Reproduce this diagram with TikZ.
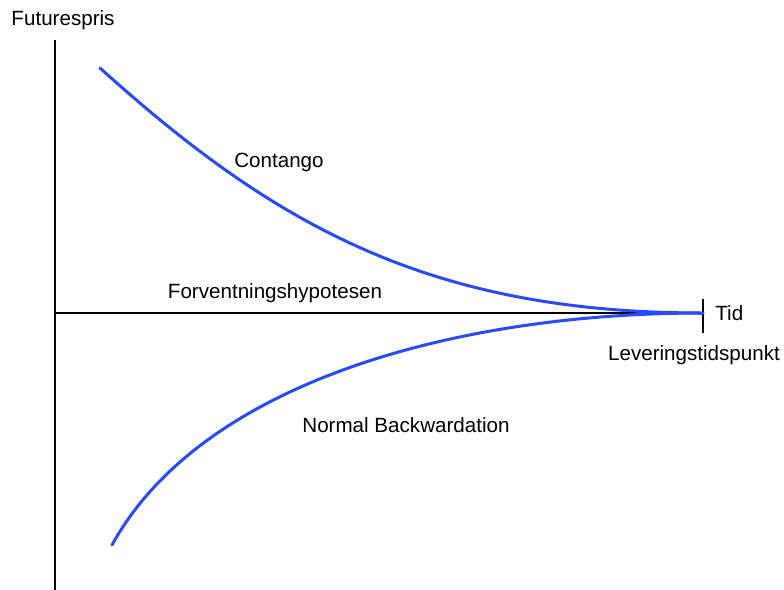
\documentclass[tikz,border=0pt]{standalone}
\usepackage{fontspec}
\setmainfont{Liberation Sans}
\usetikzlibrary{positioning}
\definecolor{curveblue}{RGB}{40,75,255}

\begin{document}
\begin{tikzpicture}[x=0.5pt, y=-0.5pt, font=\fontsize{10.3}{12}\selectfont]
    % Styles
    \tikzstyle{axis} = [draw=black, line width=1.3pt]
    \tikzstyle{curve} = [draw=curveblue, line width=1.5pt, line cap=round]
    \tikzstyle{lbl} = [inner sep=1pt, text=black]

    \useasboundingbox (0,0) rectangle (784,590);

    % Points
    \coordinate (origin) at (55,313);
    \coordinate (ytop) at (55,40);
    \coordinate (ybot) at (55,590);
    \coordinate (delivery) at (703,313);
    \coordinate (ticktop) at (703,299);
    \coordinate (tickbot) at (703,333);
    \coordinate (contstart) at (100,68);
    \coordinate (backstart) at (112,545);

    % Labels
    \node (yname) [lbl] at (63,20) {Futurespris};
    \node (tid) [lbl, right=5pt of delivery] {Tid};
    \node (lev) [lbl] at (694,355) {Leveringstidspunkt};
    \node (contango) [lbl] at (279,162) {Contango};
    \node (forv) [lbl] at (275,293) {Forventningshypotesen};
    \node (backw) [lbl] at (406,425) {Normal Backwardation};

    % Axes
    \draw [axis] (ytop) -- (ybot);
    \draw [axis] (origin) -- (delivery);
    \draw [axis] (ticktop) -- (tickbot);

    % Curves
    \draw [curve] (contstart) .. controls (275,226) and (430,313) .. (delivery);
    \draw [curve] (backstart) .. controls (200,385) and (450,313) .. (delivery);

\end{tikzpicture}
\end{document}
